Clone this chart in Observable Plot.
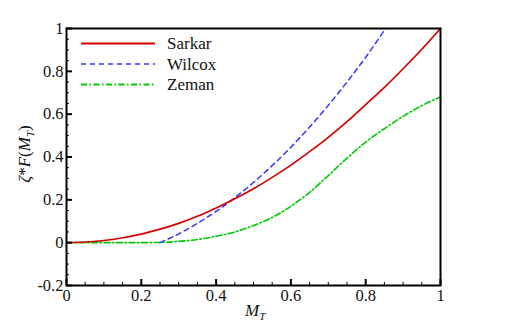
<!DOCTYPE html>
<html>
<head>
<meta charset="utf-8">
<script src="https://cdn.jsdelivr.net/npm/d3@7"></script>
<script src="https://cdn.jsdelivr.net/npm/@observablehq/plot@0.6"></script>
<style>
  html, body { margin: 0; padding: 0; background: #fff; }
  #chart { width: 518px; height: 332px; }
</style>
</head>
<body>
<div id="chart"></div>
<script>
// ---- data ----
const seriesNames = ["Sarkar", "Wilcox", "Zeman"];
const seriesColors = ["#d40000", "#3333ff", "#00c800"];

const sarkarM = [0, 0.05, 0.1, 0.15, 0.2, 0.25, 0.3, 0.35, 0.4, 0.45, 0.5, 0.55, 0.6, 0.65, 0.7, 0.75, 0.8, 0.85, 0.9, 0.95, 1.0];
const sarkarY = [0, 0.003, 0.01, 0.023, 0.04, 0.063, 0.09, 0.123, 0.162, 0.205, 0.252, 0.305, 0.362, 0.425, 0.492, 0.565, 0.645, 0.725, 0.812, 0.903, 1.0];

const wilcoxM = [0.25, 0.3, 0.35, 0.4, 0.45, 0.5, 0.55, 0.6, 0.65, 0.7, 0.75, 0.8, 0.853];
const wilcoxY = [0, 0.041, 0.09, 0.146, 0.21, 0.281, 0.36, 0.446, 0.54, 0.641, 0.75, 0.866, 1.0];

const zemanM = [0, 0.1, 0.2, 0.25, 0.3, 0.35, 0.4, 0.45, 0.5, 0.55, 0.6, 0.65, 0.7, 0.75, 0.8, 0.85, 0.9, 0.95, 1.0];
const zemanY = [0, 0, 0, 0.001, 0.006, 0.015, 0.03, 0.05, 0.08, 0.118, 0.17, 0.235, 0.313, 0.395, 0.47, 0.532, 0.59, 0.64, 0.68];

const xTicks = [0, 0.2, 0.4, 0.6, 0.8, 1];
const xTickLabels = ["0", "0.2", "0.4", "0.6", "0.8", "1"];
const yTicks = [-0.2, 0, 0.2, 0.4, 0.6, 0.8, 1];
const yTickLabels = ["-0.2", "0", "0.2", "0.4", "0.6", "0.8", "1"];
const xMinor = [0.05, 0.1, 0.15, 0.25, 0.3, 0.35, 0.45, 0.5, 0.55, 0.65, 0.7, 0.75, 0.85, 0.9, 0.95];
const yMinor = [-0.15, -0.1, -0.05, 0.05, 0.1, 0.15, 0.25, 0.3, 0.35, 0.45, 0.5, 0.55, 0.65, 0.7, 0.75, 0.85, 0.9, 0.95];

const FAM = '"Liberation Serif", "Times New Roman", serif';

// ---- build tables ----
const sarkar = sarkarM.map((m, i) => ({M: m, v: sarkarY[i]}));
const wilcox = wilcoxM.map((m, i) => ({M: m, v: wilcoxY[i]}));
const zeman = zemanM.map((m, i) => ({M: m, v: zemanY[i]}));

const styles = [
  {stroke: seriesColors[0], strokeWidth: 1.7},
  {stroke: seriesColors[1], strokeWidth: 1.5, strokeDasharray: "5,4"},
  {stroke: seriesColors[2], strokeWidth: 1.6, strokeDasharray: "6,2.5,1.5,2.5"}
];

const chart = Plot.plot({
  width: 518,
  height: 332,
  marginLeft: 66,
  marginRight: 78,
  marginTop: 28,
  marginBottom: 47,
  style: {fontFamily: FAM, fontSize: "16px", color: "#111"},
  x: {domain: [0, 1]},
  y: {domain: [-0.2, 1]},
  marks: [
    Plot.line(zeman, {x: "M", y: "v", curve: "monotone-x", ...styles[2]}),
    Plot.line(wilcox, {x: "M", y: "v", curve: "monotone-x", ...styles[1]}),
    Plot.line(sarkar, {x: "M", y: "v", curve: "monotone-x", ...styles[0]}),
    // inward ticks
    Plot.axisX({ticks: xTicks, tickSize: -6, tickFormat: () => "", strokeWidth: 2, label: null, stroke: "#000"}),
    Plot.axisX({ticks: xMinor, tickSize: -3, tickFormat: () => "", strokeWidth: 1, label: null, stroke: "#000"}),
    Plot.axisY({ticks: yTicks, tickSize: -6, tickFormat: () => "", strokeWidth: 2, label: null, stroke: "#000"}),
    Plot.axisY({ticks: yMinor, tickSize: -3, tickFormat: () => "", strokeWidth: 1, label: null, stroke: "#000"}),
    // labels
    Plot.axisX({ticks: xTicks, tickSize: 0, tickPadding: 4, tickFormat: (d, i) => xTickLabels[i], label: null, fill: "#111", fontSize: 16.5}),
    Plot.axisY({ticks: yTicks, tickSize: 0, tickPadding: 3, tickFormat: (d, i) => yTickLabels[i], label: null, fill: "#111", fontSize: 16.5}),
    Plot.frame({stroke: "#000", strokeWidth: 2})
  ]
});

document.getElementById("chart").append(chart);

// ---- axis titles and legend appended to the SVG ----
const svg = d3.select(chart);

// x title: M_T
const xt = svg.append("text")
  .attr("x", 245).attr("y", 316).attr("text-anchor", "start")
  .style("font-family", FAM).attr("font-size", 17).attr("font-style", "italic").attr("fill", "#111");
xt.append("tspan").text("M");
xt.append("tspan").attr("font-size", 11).attr("dy", 4).text("T");

// y title: ζ*F(M_T)
const yt = svg.append("text")
  .attr("transform", "translate(30,154) rotate(-90)").attr("text-anchor", "middle")
  .style("font-family", FAM).attr("font-size", 17).attr("fill", "#111");
yt.append("tspan").attr("font-style", "italic").text("ζ");
yt.append("tspan").text("*");
yt.append("tspan").attr("font-style", "italic").text("F");
yt.append("tspan").text("(");
yt.append("tspan").attr("font-style", "italic").text("M");
yt.append("tspan").attr("font-style", "italic").attr("font-size", 11).attr("dy", 4).text("T");
yt.append("tspan").attr("dy", -4).text(")");

// legend
const lg = svg.append("g").attr("text-anchor", "start");
seriesNames.forEach((name, i) => {
  const y = 43.5 + i * 20.5;
  const st = styles[i];
  lg.append("line")
    .attr("x1", 81).attr("x2", 155).attr("y1", y).attr("y2", y)
    .attr("stroke", st.stroke).attr("stroke-width", st.strokeWidth + 0.2)
    .attr("stroke-dasharray", st.strokeDasharray || null);
  lg.append("text")
    .attr("x", 167).attr("y", y).attr("dy", "0.35em").attr("text-anchor", "start")
    .style("font-family", FAM).attr("font-size", 17).attr("fill", "#111")
    .text(name);
});
</script>
</body>
</html>
